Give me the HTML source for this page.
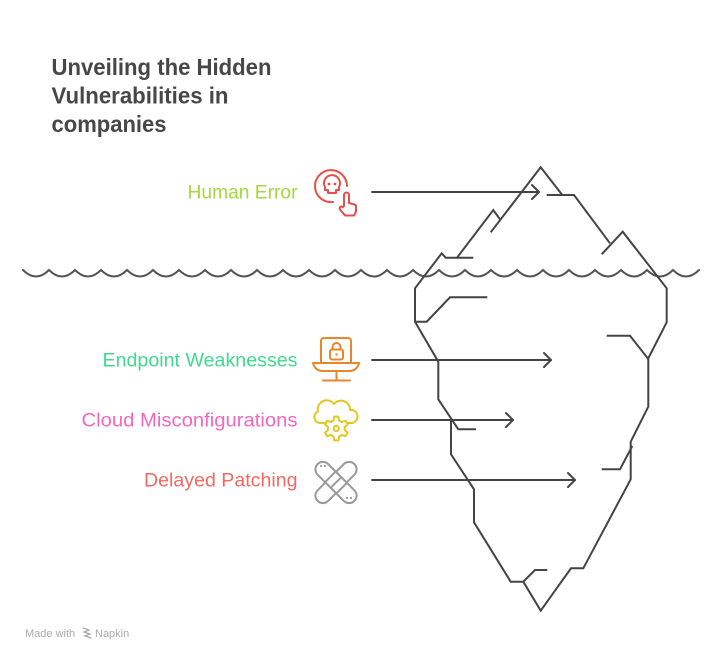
<!DOCTYPE html>
<html>
<head>
<meta charset="utf-8">
<style>
html,body{margin:0;padding:0;background:#fff;}
body{width:721px;height:661px;overflow:hidden;}
svg{display:block;}
text{font-family:"Liberation Sans",Arial,sans-serif;}
</style>
</head>
<body>
<svg width="721" height="661" viewBox="0 0 721 661" xmlns="http://www.w3.org/2000/svg">
  <!-- Title -->
  <g fill="#474747" font-weight="bold" font-size="23">
    <text x="51.5" y="75" textLength="220" lengthAdjust="spacingAndGlyphs">Unveiling the Hidden</text>
    <text x="51.5" y="103.5" textLength="177" lengthAdjust="spacingAndGlyphs">Vulnerabilities in</text>
    <text x="51.5" y="132" textLength="115" lengthAdjust="spacingAndGlyphs">companies</text>
  </g>

  <!-- Labels -->
  <g font-size="19" text-anchor="end">
    <text x="297.5" y="198.5" fill="#A6D83E" textLength="110" lengthAdjust="spacingAndGlyphs">Human Error</text>
    <text x="297.5" y="366.5" fill="#40DA8E" textLength="195" lengthAdjust="spacingAndGlyphs">Endpoint Weaknesses</text>
    <text x="297.5" y="426.5" fill="#F167C2" textLength="216" lengthAdjust="spacingAndGlyphs">Cloud Misconfigurations</text>
    <text x="297.5" y="486.5" fill="#F26A62" textLength="153.5" lengthAdjust="spacingAndGlyphs">Delayed Patching</text>
  </g>

  <!-- Waterline -->
  <path fill="none" stroke="#555" stroke-width="2" stroke-linecap="round"
    d="M23,270 q13,13 26,0 q13,13 26,0 q13,13 26,0 q13,13 26,0 q13,13 26,0 q13,13 26,0 q13,13 26,0 q13,13 26,0 q13,13 26,0 q13,13 26,0 q13,13 26,0 q13,13 26,0 q13,13 26,0 q13,13 26,0 q13,13 26,0 q13,13 26,0 q13,13 26,0 q13,13 26,0 q13,13 26,0 q13,13 26,0 q13,13 26,0 q13,13 26,0 q13,13 26,0 q13,13 26,0 q13,13 26,0 q13,13 26,0"/>

  <!-- Iceberg -->
  <g fill="none" stroke="#444" stroke-width="2" stroke-linejoin="miter">
    <polyline points="490.7,232.3 540.7,167.3 562.3,195"/>
    <polyline points="546.7,195 574,195 610,243.3"/>
    <polyline points="500,219.3 493.3,210 457.3,257.3"/>
    <polyline points="473.3,257.7 445.7,257.7 441.7,253.3 415,288.3 415,321.7 438.3,361.7 438.3,399.3 458.3,429.3 476,429.3"/>
    <polyline points="415,321.7 426.7,321.7 450,297.3 487.3,297.3"/>
    <polyline points="451,420 451,454.3 474,489.3 474,522.3 510.7,581.7 523.3,581.7 535,570 547.3,570"/>
    <polyline points="523.3,581.7 540.7,610.7 571,568.3 583.3,568.3 630.7,479.3 630.7,441.7 648.3,406.7 648.3,358.3 666.7,322.3 666.7,288.3 622.7,231.7 601.7,254.3"/>
    <polyline points="606.7,335.7 630,335.7 648.3,359"/>
    <polyline points="601.7,469.3 620,469.3 632.3,446"/>
  </g>

  <!-- Arrows -->
  <g fill="none" stroke="#444" stroke-width="2" stroke-linecap="round" stroke-linejoin="round">
    <line x1="372" y1="192" x2="539" y2="192"/>
    <polyline points="532,185 539,192 532,199"/>
    <line x1="372" y1="360" x2="551" y2="360"/>
    <polyline points="544,353 551,360 544,367"/>
    <line x1="372" y1="420" x2="513" y2="420"/>
    <polyline points="506,413 513,420 506,427"/>
    <line x1="372" y1="480" x2="575" y2="480"/>
    <polyline points="568,473 575,480 568,487"/>
  </g>

  <!-- Human Error icon -->
  <g fill="none" stroke="#E5504B" stroke-width="2" stroke-linecap="round" stroke-linejoin="round">
    <path d="M333,202 A16,16 0 1 1 347,186"/>
    <path d="M325,187 A8,8 0 1 1 339,187 L339,190 L336,190 L336,193 L328,193 L328,190 L325,190 Z"/>
    <path d="M344,206 V195 a2.5,2.5 0 0 1 5,0 v8 l5.5,1.5 a2,2 0 0 1 1.5,2 v5 l-2,4 h-9 l-5,-6 a1.8,1.8 0 0 1 2.8,-2.3 z"/>
  </g>
  <g fill="#E5504B">
    <circle cx="329" cy="184" r="1.4"/>
    <circle cx="335" cy="184" r="1.4"/>
  </g>

  <!-- Endpoint laptop icon -->
  <g fill="none" stroke="#E8862C" stroke-width="2" stroke-linecap="round" stroke-linejoin="round">
    <path d="M321,363 V341 a3,3 0 0 1 3,-3 H348 a3,3 0 0 1 3,3 V363"/>
    <rect x="330" y="349.5" width="13" height="10" rx="2"/>
    <path d="M332.5,349.5 v-2.5 a4,4 0 0 1 8,0 v2.5"/>
    <path d="M313,363 H359 Q357,371 349,371 H323 Q315,371 313,363 Z"/>
    <path d="M336.5,371 V380"/>
    <path d="M323,380.5 H350"/>
  </g>
  <circle cx="336.5" cy="354.5" r="1.2" fill="#E8862C"/>

  <!-- Cloud gear icon -->
  <g fill="none" stroke="#E2C71E" stroke-width="2" stroke-linecap="round" stroke-linejoin="round">
    <path d="M324,423 H320 A6,6 0 0 1 318,411.5 A9,9 0 0 1 334,404 A9,9 0 0 1 350,410 A6.5,6.5 0 0 1 352,423 H348"/>
    <g transform="translate(336.3,428.5)">
      <polygon points="-2.91,-7.99 -2.08,-11.82 2.08,-11.82 2.91,-7.99 5.46,-6.51 9.19,-7.71 11.28,-4.10 8.37,-1.48 8.37,1.48 11.28,4.10 9.19,7.71 5.46,6.51 2.91,7.99 2.08,11.82 -2.08,11.82 -2.91,7.99 -5.46,6.51 -9.19,7.71 -11.28,4.10 -8.37,1.48 -8.37,-1.48 -11.28,-4.10 -9.19,-7.71 -5.46,-6.51"/>
      <circle cx="0" cy="0" r="2.6"/>
    </g>
  </g>

  <!-- Bandage icon -->
  <g stroke="#9A9A9A" stroke-width="2" stroke-linecap="round" stroke-linejoin="round" fill="#fff">
    <rect x="310" y="475" width="52" height="15" rx="7.5" transform="rotate(-45 336 482.5)"/>
    <rect x="310" y="475" width="52" height="15" rx="7.5" transform="rotate(45 336 482.5)"/>
    <g transform="rotate(45 336 482.5)" fill="none">
      <line x1="328" y1="475" x2="328" y2="490"/>
      <line x1="344" y1="475" x2="344" y2="490"/>
      <line x1="336" y1="475" x2="336" y2="490"/>
    </g>
  </g>
  <g fill="#9A9A9A">
    <circle cx="321" cy="466" r="1.1"/>
    <circle cx="325" cy="466" r="1.1"/>
    <circle cx="347" cy="498" r="1.1"/>
    <circle cx="351" cy="498" r="1.1"/>
  </g>

  <!-- Footer -->
  <g fill="#AAAAAA" font-size="11">
    <text x="25" y="637">Made with</text>
    <text x="95" y="637">Napkin</text>
  </g>
  <g fill="none" stroke="#AAAAAA" stroke-width="1.3" stroke-linecap="round">
    <path d="M83,628 l6,2 l-5,2 l6,2 l-5,2 l6,2"/>
  </g>
</svg>
</body>
</html>
